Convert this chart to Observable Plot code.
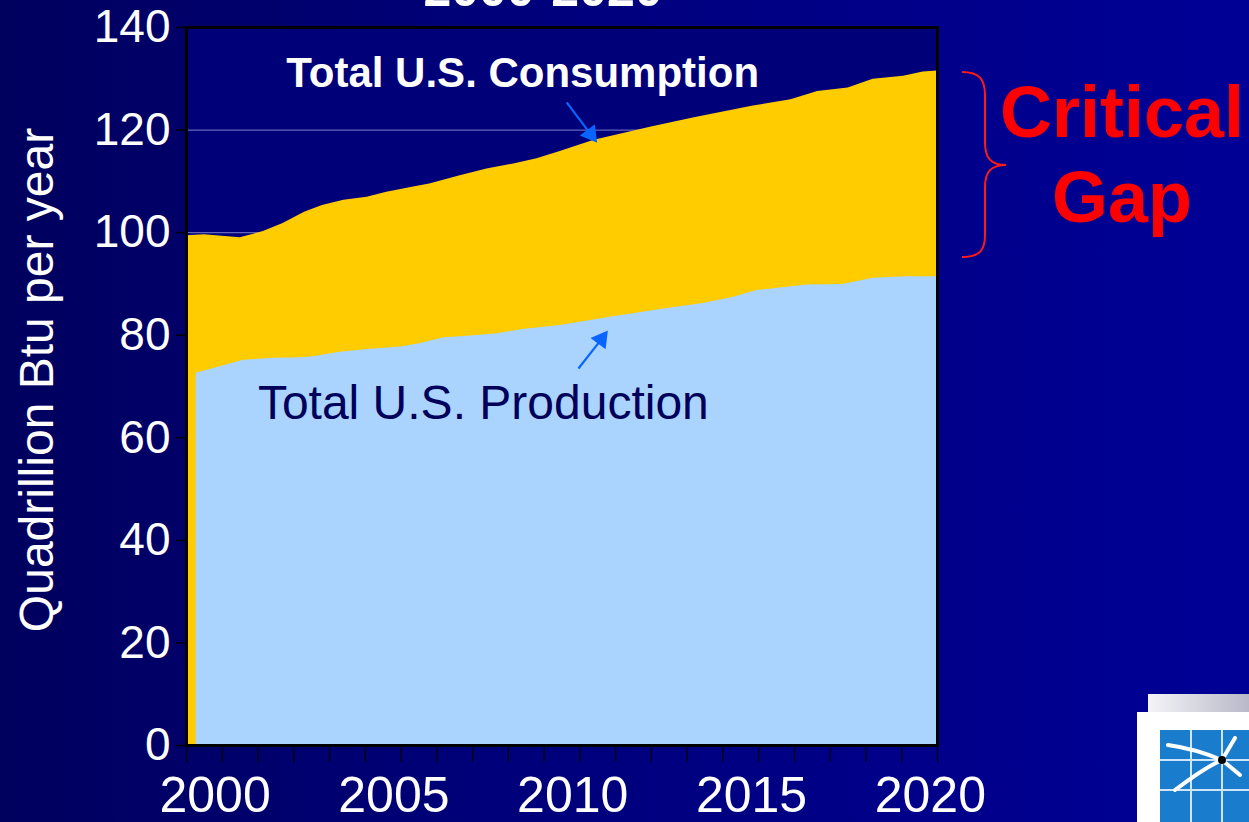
<!DOCTYPE html>
<html>
<head>
<meta charset="utf-8">
<script src="https://cdn.jsdelivr.net/npm/d3@7"></script>
<script src="https://cdn.jsdelivr.net/npm/@observablehq/plot@0.6"></script>
<style>
  html, body { margin: 0; padding: 0; }
  body {
    width: 1249px; height: 822px; overflow: hidden; position: relative;
    background: linear-gradient(to right, #00005e 0%, #00007a 40%, #000096 100%);
    font-family: "Liberation Sans", Arial, sans-serif;
  }
  #chart { position: absolute; left: 0; top: 0; }
  #overlay { position: absolute; left: 0; top: 0; pointer-events: none; }
</style>
</head>
<body>
<div id="chart"></div>
<svg id="overlay" width="1249" height="822" xmlns="http://www.w3.org/2000/svg"></svg>
<script>
// ---- data ----
const consYear  = [1999.2, 1999.7, 2000.7, 2001.35, 2001.9, 2002.5, 2003.0, 2003.6, 2004.25, 2004.8, 2005.55, 2006.0, 2006.8, 2007.6, 2008.35, 2009.0, 2009.65, 2010.6, 2012.2, 2013.4, 2015.05, 2016.1, 2016.85, 2017.7, 2018.4, 2019.25, 2019.8, 2020.2];
const consValue = [99.4, 99.6, 99.0, 100.2, 101.8, 104.0, 105.3, 106.3, 106.9, 107.9, 108.9, 109.5, 111.0, 112.4, 113.4, 114.4, 115.8, 118.0, 120.6, 122.4, 124.7, 125.9, 127.5, 128.2, 129.9, 130.5, 131.3, 131.5];

const prodYear  = [1999.47, 2000.8, 2001.65, 2002.4, 2002.75, 2003.5, 2004.25, 2005.2, 2005.75, 2006.4, 2007.05, 2007.9, 2008.6, 2009.65, 2011.05, 2012.45, 2013.65, 2014.5, 2015.15, 2016.55, 2017.55, 2018.4, 2019.35, 2020.2];
const prodValue = [72.6, 75.1, 75.5, 75.6, 75.8, 76.7, 77.2, 77.7, 78.4, 79.5, 79.8, 80.3, 81.1, 81.9, 83.5, 85.0, 86.2, 87.4, 88.7, 89.8, 89.9, 91.1, 91.4, 91.4];

const xDomain = [1999.2, 2020.2];
const xLabelTicks = [2000, 2005, 2010, 2015, 2020];
const xMinorTicks = d3.range(22).map(k => xDomain[0] + k);   // one mark per category boundary
const yTicks = [0, 20, 40, 60, 80, 100, 120, 140];
const gridTicks = [20, 40, 60, 80, 100, 120];

const consLabel = [{text: "Total U.S. Consumption", year: 2008.6, value: 131.0}];
const prodLabel = [{text: "Total U.S. Production", year: 2007.5, value: 66.6}];
const arrows = [
  {x1: 2009.83, y1: 125.4, x2: 2010.5, y2: 119.2, rot: 143},
  {x1: 2010.16, y1: 73.5, x2: 2010.8, y2: 79.2, rot: 37}
];

const consumption = consYear.map((y, i) => ({year: y, value: consValue[i]}));
const production = prodYear.map((y, i) => ({year: y, value: prodValue[i]}));

const font = "'Liberation Sans', Arial, sans-serif";

const chart = Plot.plot({
  width: 1249,
  height: 822,
  marginTop: 27,
  marginBottom: 77,
  marginLeft: 186,
  marginRight: 312,
  style: {background: "transparent", fontFamily: font, overflow: "visible"},
  x: {domain: xDomain, axis: null},
  y: {domain: [0, 140], axis: null},
  marks: [
    Plot.frame({fill: "#000078"}),
    Plot.gridY(gridTicks, {stroke: "#6464b8", strokeOpacity: 1, strokeWidth: 1.2}),
    Plot.areaY(consumption, {x: "year", y: "value", fill: "#ffcc00", curve: "linear"}),
    Plot.areaY(production, {x: "year", y: "value", fill: "#aad4fe", curve: "linear"}),
    Plot.frame({stroke: "black", strokeWidth: 3}),
    Plot.axisY({ticks: yTicks, tickSize: 10, tickPadding: 6, stroke: "black", strokeWidth: 1.5,
                fill: "white", fontSize: 46, label: null, tickFormat: d => String(d)}),
    Plot.axisX({ticks: xMinorTicks, tickSize: 17, stroke: "black", strokeWidth: 1.2,
                tickFormat: () => "", label: null}),
    Plot.axisX({ticks: xLabelTicks, tickSize: 0, tickPadding: 31, fill: "white",
                fontSize: 50, label: null, tickFormat: d => String(d)}),
    Plot.link(arrows, {x1: "x1", y1: "y1", x2: "x2", y2: "y2", stroke: "#0a64ff", strokeWidth: 2.2}),
    Plot.dot(arrows, {x: "x2", y: "y2", symbol: "triangle", r: 7, fill: "#0a64ff", rotate: "rot", stroke: "none"}),
    Plot.text(consLabel, {x: "year", y: "value", text: "text", fill: "white", fontWeight: "bold",
                          fontSize: 42, textAnchor: "middle", lineAnchor: "middle"}),
    Plot.text(prodLabel, {x: "year", y: "value", text: "text", fill: "#00005a",
                          fontSize: 48, textAnchor: "middle", lineAnchor: "middle"})
  ]
});

document.getElementById("chart").appendChild(chart);

// ---- decorations outside the plot ----
const ov = d3.select("#overlay");
// cut-off title
ov.append("text").attr("x", 543).attr("y", 6).attr("text-anchor", "middle")
  .attr("font-family", font).attr("font-weight", "bold").attr("font-size", 50)
  .attr("fill", "white").text("2000-2020");
// y-axis title
ov.append("text").attr("transform", "translate(53,380) rotate(-90)").attr("text-anchor", "middle")
  .attr("font-family", font).attr("font-size", 48).attr("fill", "white")
  .text("Quadrillion Btu per year");
// brace
ov.append("path")
  .attr("d", "M962,72 C980,72 985,80 985,95 L985,143 C985,158 991,165 1006,165 C991,165 985,172 985,187 L985,235 C985,250 980,257 962,257")
  .attr("fill", "none").attr("stroke", "#ff1a1a").attr("stroke-width", 2);
ov.append("text").attr("x", 1122).attr("y", 137).attr("text-anchor", "middle")
  .attr("font-family", font).attr("font-weight", "bold").attr("font-size", 72)
  .attr("fill", "#ff0000").text("Critical");
ov.append("text").attr("x", 1122).attr("y", 222).attr("text-anchor", "middle")
  .attr("font-family", font).attr("font-weight", "bold").attr("font-size", 72)
  .attr("fill", "#ff0000").text("Gap");
// logo (bottom right)
const defs = ov.append("defs");
const g = defs.append("linearGradient").attr("id", "bar").attr("x1", 0).attr("x2", 1);
g.append("stop").attr("offset", 0).attr("stop-color", "#f4f4f8");
g.append("stop").attr("offset", 1).attr("stop-color", "#b8b8c8");
ov.append("rect").attr("x", 1148).attr("y", 694).attr("width", 101).attr("height", 18).attr("fill", "url(#bar)");
ov.append("rect").attr("x", 1137).attr("y", 712).attr("width", 112).attr("height", 110).attr("fill", "white");
ov.append("rect").attr("x", 1160).attr("y", 730).attr("width", 89).attr("height", 92).attr("fill", "#1a7ccc");
[1191, 1222].forEach(x => ov.append("line").attr("x1", x).attr("x2", x).attr("y1", 730).attr("y2", 822).attr("stroke", "#cfe6f8").attr("stroke-width", 2));
[760, 790].forEach(y => ov.append("line").attr("x1", 1160).attr("x2", 1249).attr("y1", y).attr("y2", y).attr("stroke", "#cfe6f8").attr("stroke-width", 2));
ov.append("path").attr("d", "M1168,745 C1190,748 1210,755 1222,760 M1175,790 C1195,775 1210,765 1222,760 M1222,760 L1235,738 M1222,760 L1240,775")
  .attr("fill", "none").attr("stroke", "white").attr("stroke-width", 4).attr("stroke-linecap", "round");
ov.append("circle").attr("cx", 1222).attr("cy", 760).attr("r", 4).attr("fill", "black");
</script>
</body>
</html>
